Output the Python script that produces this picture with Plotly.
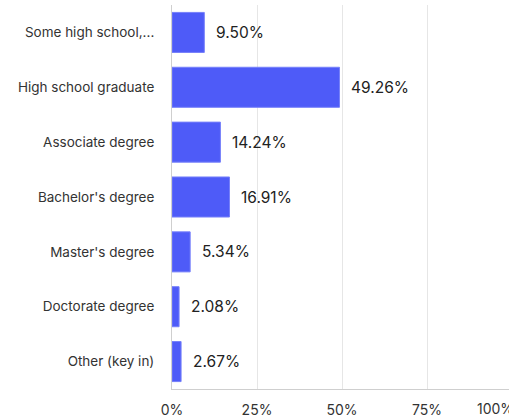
import plotly.graph_objects as go

categories = ["Some high school,...", "High school graduate", "Associate degree",
              "Bachelor's degree", "Master's degree", "Doctorate degree", "Other (key in)"]
values = [9.50, 49.26, 14.24, 16.91, 5.34, 2.08, 2.67]
tick_vals = [0, 25, 50, 75]
tick_text = ["0%", "25%", "50%", "75%"]
last_tick_text = "100%"

W, H = 509, 417
ml, mr, mt, mb = 172, 0, 5, 28
plot_w = W - ml - mr
px_per_unit = 340 / 100.0
xmax = plot_w / px_per_unit

fig = go.Figure()
fig.add_trace(go.Bar(
    x=values, y=categories, orientation="h",
    marker=dict(color="#4E5BF8", line=dict(color="#7680FA", width=1)),
    width=0.73, hoverinfo="skip",
))

for c, v in zip(categories, values):
    fig.add_annotation(x=v, y=c, xref="x", yref="y", text=f"{v:.2f}%",
                       showarrow=False, xanchor="left", xshift=10,
                       font=dict(family="Inter", size=15.5, color="#222222"))

fig.add_annotation(x=(475 - ml) / plot_w, y=0, xref="paper", yref="paper",
                   text=last_tick_text, showarrow=False, xanchor="left",
                   yanchor="top", yshift=-9,
                   font=dict(family="Inter", size=14, color="#333333"))

fig.update_layout(
    width=W, height=H,
    margin=dict(l=ml, r=mr, t=mt, b=mb, pad=0),
    plot_bgcolor="white", paper_bgcolor="white",
    showlegend=False,
    font=dict(family="Inter", size=13.5, color="#333333"),
    xaxis=dict(range=[0, xmax], tickvals=tick_vals, ticktext=tick_text,
               showgrid=True, gridcolor="#E6E6E6", gridwidth=1,
               showline=True, linecolor="#CFCFCF", linewidth=1,
               zeroline=False, ticks="", fixedrange=True, ticklabelstandoff=8,
               tickfont=dict(family="Inter", size=14, color="#333333")),
    yaxis=dict(categoryorder="array", categoryarray=categories,
               autorange="reversed", showgrid=False,
               showline=True, linecolor="#CFCFCF", linewidth=1,
               ticks="", ticklabelstandoff=14,
               tickfont=dict(family="Inter", size=13.5, color="#333333")),
)

fig.write_html("out.html", config={"displayModeBar": False})
